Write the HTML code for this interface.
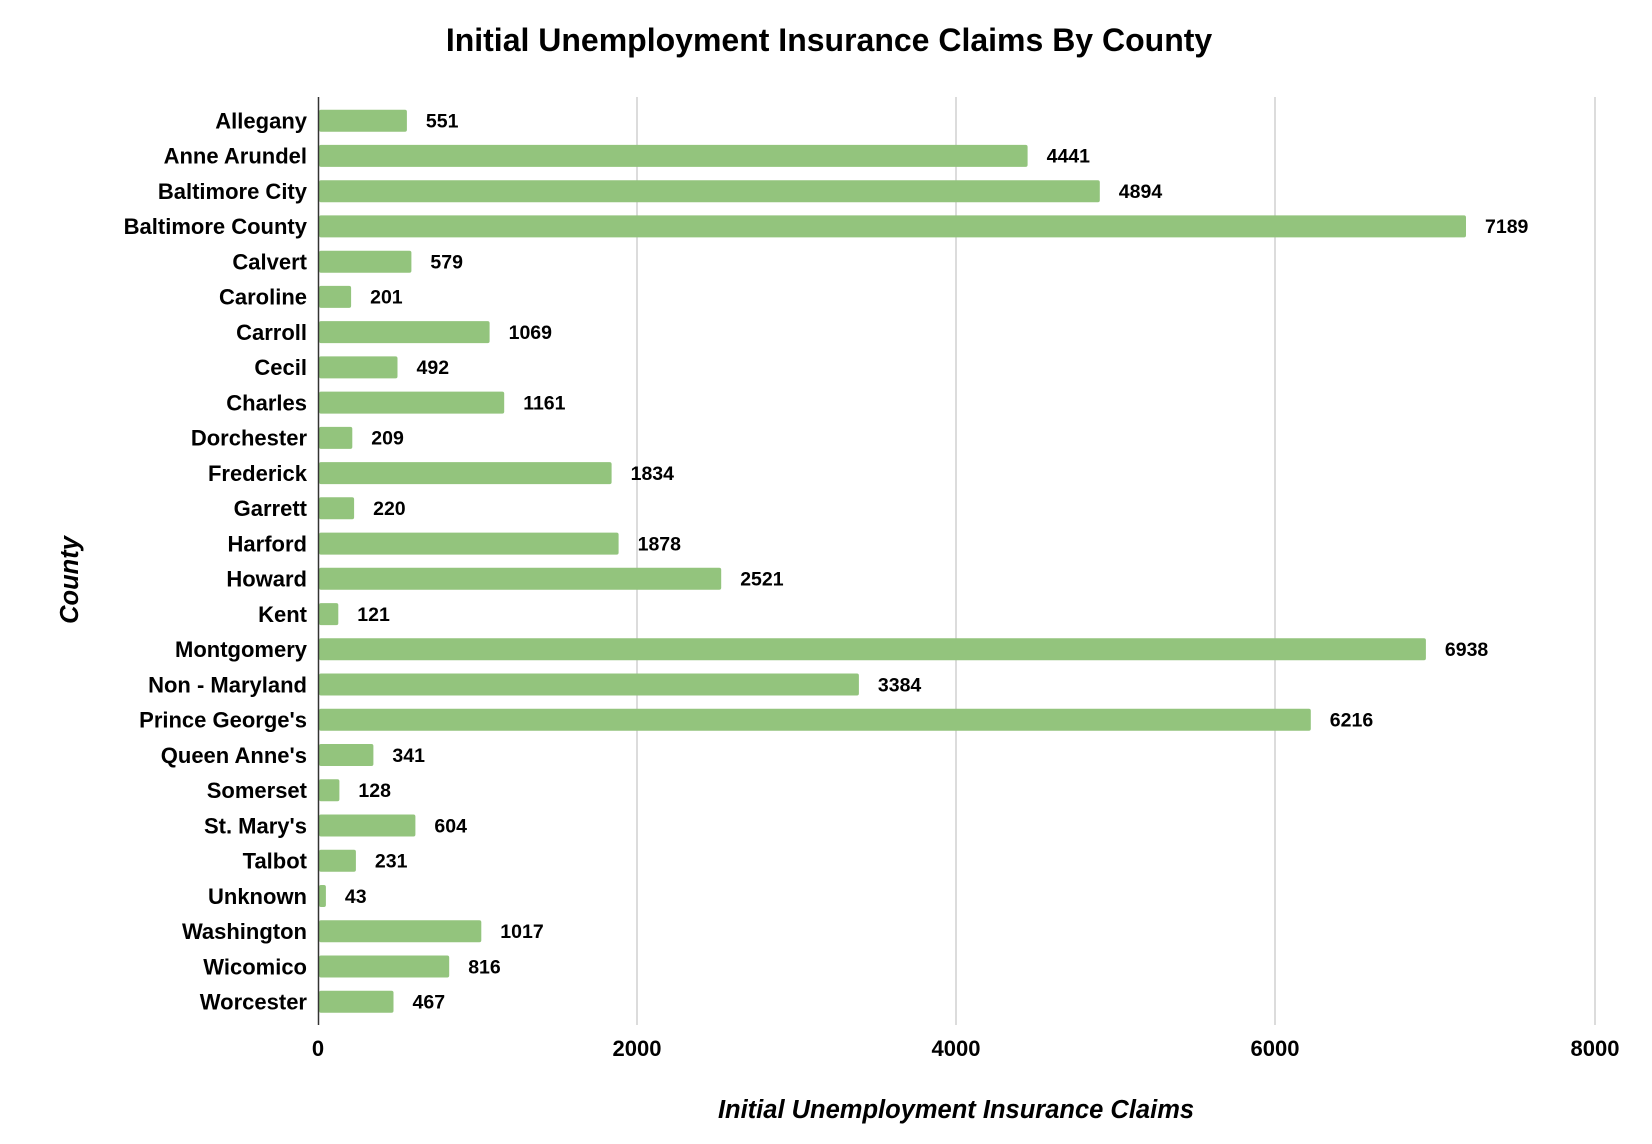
<!DOCTYPE html>
<html><head><meta charset="utf-8"><style>
html,body{margin:0;padding:0;background:#fff;}
svg{display:block;font-family:"Liberation Sans",Arial,sans-serif;font-weight:bold;}
.l{font-size:22px;text-anchor:end;}
.v{font-size:19.5px;}
</style></head><body>
<svg width="1652" height="1144" viewBox="0 0 1652 1144" xmlns="http://www.w3.org/2000/svg">
<rect width="1652" height="1144" fill="#fff"/>
<text x="829" y="51" font-size="32" text-anchor="middle" fill="#000">Initial Unemployment Insurance Claims By County</text>
<g stroke="#d0d0d0" stroke-width="1.5">
<line x1="637" y1="97" x2="637" y2="1025"/>
<line x1="956" y1="97" x2="956" y2="1025"/>
<line x1="1275" y1="97" x2="1275" y2="1025"/>
<line x1="1595" y1="97" x2="1595" y2="1025"/>
</g>
<g fill="#93c47d">
<rect x="319" y="109.7" width="87.9" height="22" rx="2"/>
<rect x="319" y="144.9" width="708.6" height="22" rx="2"/>
<rect x="319" y="180.2" width="780.8" height="22" rx="2"/>
<rect x="319" y="215.4" width="1147.0" height="22" rx="2"/>
<rect x="319" y="250.7" width="92.4" height="22" rx="2"/>
<rect x="319" y="285.9" width="32.1" height="22" rx="2"/>
<rect x="319" y="321.1" width="170.6" height="22" rx="2"/>
<rect x="319" y="356.4" width="78.5" height="22" rx="2"/>
<rect x="319" y="391.6" width="185.2" height="22" rx="2"/>
<rect x="319" y="426.9" width="33.3" height="22" rx="2"/>
<rect x="319" y="462.1" width="292.6" height="22" rx="2"/>
<rect x="319" y="497.3" width="35.1" height="22" rx="2"/>
<rect x="319" y="532.6" width="299.6" height="22" rx="2"/>
<rect x="319" y="567.8" width="402.2" height="22" rx="2"/>
<rect x="319" y="603.1" width="19.3" height="22" rx="2"/>
<rect x="319" y="638.3" width="1106.9" height="22" rx="2"/>
<rect x="319" y="673.5" width="539.9" height="22" rx="2"/>
<rect x="319" y="708.8" width="991.8" height="22" rx="2"/>
<rect x="319" y="744.0" width="54.4" height="22" rx="2"/>
<rect x="319" y="779.3" width="20.4" height="22" rx="2"/>
<rect x="319" y="814.5" width="96.4" height="22" rx="2"/>
<rect x="319" y="849.7" width="36.9" height="22" rx="2"/>
<rect x="319" y="885.0" width="6.9" height="22" rx="2"/>
<rect x="319" y="920.2" width="162.3" height="22" rx="2"/>
<rect x="319" y="955.5" width="130.2" height="22" rx="2"/>
<rect x="319" y="990.7" width="74.5" height="22" rx="2"/>
</g>
<g fill="#000">
<text class="l" x="307" y="128.5">Allegany</text>
<text class="l" x="307" y="163.7">Anne Arundel</text>
<text class="l" x="307" y="199.0">Baltimore City</text>
<text class="l" x="307" y="234.2">Baltimore County</text>
<text class="l" x="307" y="269.5">Calvert</text>
<text class="l" x="307" y="304.7">Caroline</text>
<text class="l" x="307" y="339.9">Carroll</text>
<text class="l" x="307" y="375.2">Cecil</text>
<text class="l" x="307" y="410.4">Charles</text>
<text class="l" x="307" y="445.7">Dorchester</text>
<text class="l" x="307" y="480.9">Frederick</text>
<text class="l" x="307" y="516.1">Garrett</text>
<text class="l" x="307" y="551.4">Harford</text>
<text class="l" x="307" y="586.6">Howard</text>
<text class="l" x="307" y="621.9">Kent</text>
<text class="l" x="307" y="657.1">Montgomery</text>
<text class="l" x="307" y="692.3">Non - Maryland</text>
<text class="l" x="307" y="727.6">Prince George's</text>
<text class="l" x="307" y="762.8">Queen Anne's</text>
<text class="l" x="307" y="798.1">Somerset</text>
<text class="l" x="307" y="833.3">St. Mary's</text>
<text class="l" x="307" y="868.5">Talbot</text>
<text class="l" x="307" y="903.8">Unknown</text>
<text class="l" x="307" y="939.0">Washington</text>
<text class="l" x="307" y="974.3">Wicomico</text>
<text class="l" x="307" y="1009.5">Worcester</text>
</g>
<g fill="#000">
<text class="v" x="425.9" y="127.5">551</text>
<text class="v" x="1046.6" y="162.7">4441</text>
<text class="v" x="1118.8" y="198.0">4894</text>
<text class="v" x="1485.0" y="233.2">7189</text>
<text class="v" x="430.4" y="268.5">579</text>
<text class="v" x="370.1" y="303.7">201</text>
<text class="v" x="508.6" y="338.9">1069</text>
<text class="v" x="416.5" y="374.2">492</text>
<text class="v" x="523.2" y="409.4">1161</text>
<text class="v" x="371.3" y="444.7">209</text>
<text class="v" x="630.6" y="479.9">1834</text>
<text class="v" x="373.1" y="515.1">220</text>
<text class="v" x="637.6" y="550.4">1878</text>
<text class="v" x="740.2" y="585.6">2521</text>
<text class="v" x="357.3" y="620.9">121</text>
<text class="v" x="1444.9" y="656.1">6938</text>
<text class="v" x="877.9" y="691.3">3384</text>
<text class="v" x="1329.8" y="726.6">6216</text>
<text class="v" x="392.4" y="761.8">341</text>
<text class="v" x="358.4" y="797.1">128</text>
<text class="v" x="434.4" y="832.3">604</text>
<text class="v" x="374.9" y="867.5">231</text>
<text class="v" x="344.9" y="902.8">43</text>
<text class="v" x="500.3" y="938.0">1017</text>
<text class="v" x="468.2" y="973.3">816</text>
<text class="v" x="412.5" y="1008.5">467</text>
</g>
<line x1="318.5" y1="97" x2="318.5" y2="1025" stroke="#333" stroke-width="1.5"/>
<g font-size="22" text-anchor="middle" fill="#000">
<text x="318" y="1056">0</text><text x="637" y="1056">2000</text><text x="956" y="1056">4000</text><text x="1275" y="1056">6000</text><text x="1595" y="1056">8000</text>
</g>
<text x="956" y="1118" font-size="25.5" font-style="italic" text-anchor="middle">Initial Unemployment Insurance Claims</text>
<text transform="translate(78,580) rotate(-90)" font-size="25.5" font-style="italic" text-anchor="middle">County</text>
</svg>
</body></html>
